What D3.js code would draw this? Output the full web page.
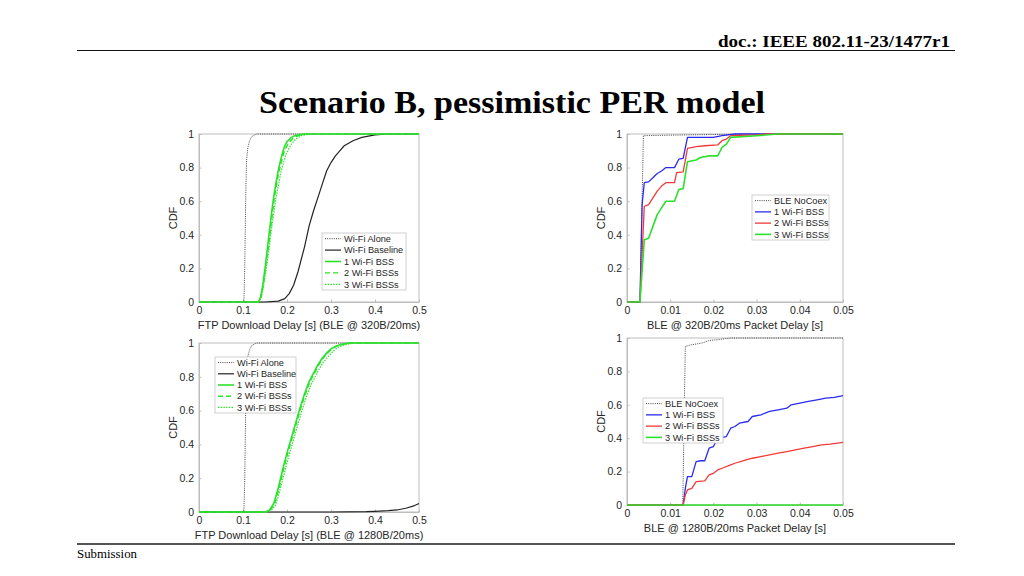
<!DOCTYPE html>
<html><head><meta charset="utf-8">
<script src="https://cdn.jsdelivr.net/npm/d3@7"></script>
<style>body{margin:0;background:#fff}svg{display:block}</style>
</head><body><svg id="c" width="1024" height="576"></svg>
<script>
// ---------- DATA ----------
const headerText = "doc.: IEEE 802.11-23/1477r1";
const titleText = "Scenario B, pessimistic PER model";
const footerText = "Submission";

const ftpTicks = [0, 0.1, 0.2, 0.3, 0.4, 0.5];
const bleTicks = [0, 0.01, 0.02, 0.03, 0.04, 0.05];
const cdfTicks = [0, 0.2, 0.4, 0.6, 0.8, 1];

const ftpLegend = ["Wi-Fi Alone", "Wi-Fi Baseline", "1 Wi-Fi BSS", "2 Wi-Fi BSSs", "3 Wi-Fi BSSs"];
const bleLegend = ["BLE NoCoex", "1 Wi-Fi BSS", "2 Wi-Fi BSSs", "3 Wi-Fi BSSs"];

// Top-left: FTP delay, BLE @ 320B/20ms
const tlAlone = [[0,0],[0.102,0],[0.104,0.2],[0.106,0.6],[0.108,0.84],[0.111,0.92],[0.115,0.96],[0.12,0.985],[0.13,1],[0.5,1]];
const tlBaseline = [[0,0],[0.15,0],[0.18,0.005],[0.195,0.02],[0.205,0.05],[0.215,0.1],[0.225,0.18],[0.24,0.33],[0.25,0.45],[0.26,0.54],[0.27,0.62],[0.28,0.7],[0.29,0.78],[0.30,0.83],[0.31,0.87],[0.32,0.9],[0.33,0.93],[0.35,0.96],[0.37,0.98],[0.40,0.995],[0.43,1],[0.5,1]];
const tl1 = [[0,0],[0.135,0],[0.14,0.03],[0.145,0.1],[0.15,0.2],[0.155,0.31],[0.16,0.42],[0.165,0.53],[0.17,0.63],[0.175,0.71],[0.18,0.78],[0.185,0.84],[0.19,0.89],[0.195,0.93],[0.2,0.955],[0.21,0.98],[0.22,0.992],[0.24,1],[0.5,1]];
const tl2 = [[0,0],[0.136,0],[0.141,0.03],[0.146,0.1],[0.151,0.2],[0.157,0.31],[0.162,0.42],[0.167,0.53],[0.172,0.63],[0.177,0.71],[0.182,0.78],[0.188,0.84],[0.193,0.89],[0.198,0.92],[0.204,0.95],[0.214,0.975],[0.225,0.99],[0.245,1],[0.5,1]];
const tl3 = [[0,0],[0.137,0],[0.142,0.03],[0.147,0.1],[0.153,0.2],[0.159,0.31],[0.164,0.42],[0.17,0.53],[0.175,0.62],[0.181,0.7],[0.186,0.77],[0.192,0.83],[0.198,0.88],[0.204,0.91],[0.21,0.94],[0.22,0.97],[0.232,0.99],[0.25,1],[0.5,1]];

// Top-right: BLE packet delay, 320B/20ms
const trNoCoex = [[0,0],[0.003,0],[0.0038,0.99],[0.01,0.993],[0.02,0.997],[0.03,1],[0.05,1]];
const tr1 = [[0,0],[0.003,0],[0.0035,0.58],[0.004,0.71],[0.005,0.715],[0.006,0.74],[0.007,0.765],[0.008,0.78],[0.009,0.8],[0.011,0.8],[0.012,0.85],[0.013,0.855],[0.014,0.98],[0.02,0.98],[0.022,0.99],[0.025,1],[0.05,1]];
const tr2 = [[0,0],[0.003,0],[0.004,0.57],[0.005,0.58],[0.006,0.62],[0.007,0.66],[0.008,0.69],[0.009,0.71],[0.011,0.71],[0.0115,0.77],[0.013,0.775],[0.014,0.915],[0.016,0.925],[0.018,0.93],[0.021,0.935],[0.022,0.96],[0.023,0.97],[0.024,0.99],[0.03,0.995],[0.033,1],[0.05,1]];
const tr3 = [[0,0],[0.003,0],[0.004,0.37],[0.005,0.38],[0.006,0.45],[0.007,0.52],[0.008,0.56],[0.009,0.6],[0.011,0.6],[0.012,0.67],[0.013,0.675],[0.014,0.835],[0.016,0.845],[0.017,0.86],[0.019,0.87],[0.021,0.87],[0.022,0.92],[0.023,0.94],[0.024,0.98],[0.03,0.99],[0.035,1],[0.05,1]];

// Bottom-left: FTP delay, BLE @ 1280B/20ms
const blAlone = [[0,0],[0.102,0],[0.104,0.2],[0.106,0.6],[0.108,0.84],[0.111,0.92],[0.115,0.96],[0.12,0.985],[0.13,1],[0.5,1]];
const blBaseline = [[0,0],[0.3,0],[0.38,0.002],[0.4,0.004],[0.43,0.008],[0.45,0.012],[0.47,0.022],[0.49,0.038],[0.5,0.05]];
const bl1 = [[0,0],[0.15,0],[0.16,0.01],[0.17,0.05],[0.18,0.14],[0.19,0.25],[0.2,0.35],[0.21,0.44],[0.22,0.53],[0.23,0.62],[0.24,0.7],[0.25,0.77],[0.26,0.82],[0.27,0.87],[0.28,0.91],[0.29,0.94],[0.3,0.965],[0.31,0.98],[0.32,0.99],[0.34,1],[0.5,1]];
const bl2 = [[0,0],[0.152,0],[0.162,0.01],[0.172,0.05],[0.182,0.14],[0.192,0.25],[0.202,0.35],[0.212,0.44],[0.222,0.53],[0.232,0.62],[0.242,0.7],[0.252,0.77],[0.262,0.82],[0.272,0.87],[0.282,0.91],[0.292,0.94],[0.302,0.965],[0.312,0.98],[0.322,0.99],[0.342,1],[0.5,1]];
const bl3 = [[0,0],[0.154,0],[0.164,0.01],[0.174,0.04],[0.184,0.13],[0.194,0.23],[0.204,0.33],[0.214,0.42],[0.224,0.51],[0.234,0.6],[0.244,0.68],[0.254,0.75],[0.264,0.8],[0.274,0.85],[0.284,0.89],[0.294,0.92],[0.304,0.95],[0.314,0.97],[0.326,0.985],[0.35,1],[0.5,1]];

// Bottom-right: BLE packet delay, 1280B/20ms
const brNoCoex = [[0,0],[0.0129,0],[0.0135,0.95],[0.015,0.96],[0.017,0.968],[0.018,0.975],[0.019,0.985],[0.021,0.99],[0.024,1],[0.05,1]];
const br1 = [[0,0],[0.013,0],[0.0135,0.1],[0.014,0.17],[0.015,0.17],[0.016,0.26],[0.017,0.265],[0.018,0.265],[0.019,0.34],[0.02,0.35],[0.021,0.4],[0.023,0.41],[0.024,0.46],[0.025,0.47],[0.026,0.49],[0.028,0.5],[0.029,0.53],[0.031,0.54],[0.033,0.56],[0.035,0.57],[0.037,0.58],[0.038,0.6],[0.04,0.61],[0.042,0.62],[0.044,0.63],[0.046,0.64],[0.048,0.645],[0.05,0.655]];
const br2 = [[0,0],[0.013,0],[0.0135,0.06],[0.014,0.09],[0.015,0.1],[0.016,0.14],[0.018,0.145],[0.019,0.18],[0.02,0.19],[0.021,0.21],[0.022,0.22],[0.024,0.24],[0.025,0.25],[0.027,0.265],[0.029,0.28],[0.031,0.29],[0.033,0.3],[0.035,0.31],[0.037,0.32],[0.039,0.33],[0.041,0.34],[0.043,0.35],[0.045,0.36],[0.047,0.365],[0.05,0.375]];
const br3 = [[0,0],[0.05,0]];

// ---------- STYLE ----------
const GREEN = "#2ee02e", BLUE = "#2b2bf0", RED = "#f03a3a";
const stAlone = {c: "#444", w: 1, d: "1,1.2"};
const stBase = {c: "#222", w: 1.2, d: null};
const stG1 = {c: GREEN, w: 1.6, d: null};
const stG2 = {c: GREEN, w: 1.4, d: "5,3"};
const stG3 = {c: GREEN, w: 1.2, d: "1.5,1.2"};
const stBlue = {c: BLUE, w: 1.3, d: null};
const stRed = {c: RED, w: 1.3, d: null};
const stGreen = {c: GREEN, w: 1.6, d: null};

const svg = d3.select("#c");
const SANS = "'Liberation Sans', Arial, Helvetica, sans-serif";
const SERIF = "'Liberation Serif', 'Times New Roman', serif";

// Header/footer
svg.append("text").attr("x", 950).attr("y", 47).attr("text-anchor", "end")
  .attr("font-family", SERIF).attr("font-weight", "bold").attr("font-size", 16)
  .attr("textLength", 232).attr("lengthAdjust", "spacingAndGlyphs").text(headerText);
svg.append("line").attr("x1", 77).attr("x2", 955).attr("y1", 50.5).attr("y2", 50.5)
  .attr("stroke", "#111").attr("stroke-width", 1);
svg.append("text").attr("x", 512).attr("y", 113).attr("text-anchor", "middle")
  .attr("font-family", SERIF).attr("font-weight", "bold").attr("font-size", 31)
  .attr("textLength", 506).attr("lengthAdjust", "spacingAndGlyphs").text(titleText);
svg.append("line").attr("x1", 77).attr("x2", 955).attr("y1", 544).attr("y2", 544)
  .attr("stroke", "#555").attr("stroke-width", 2);
svg.append("text").attr("x", 77).attr("y", 558)
  .attr("font-family", SERIF).attr("font-size", 12)
  .attr("textLength", 60).attr("lengthAdjust", "spacingAndGlyphs").text(footerText);

function panel(cfg) {
  const x = d3.scaleLinear().domain(cfg.xdom).range([cfg.x0, cfg.x1]);
  const y = d3.scaleLinear().domain([0, 1]).range([cfg.y1, cfg.y0]);
  const g = svg.append("g");
  g.append("rect").attr("x", cfg.x0).attr("y", cfg.y0).attr("width", cfg.x1 - cfg.x0)
    .attr("height", cfg.y1 - cfg.y0).attr("fill", "#fff").attr("stroke", "#bdbdbd").attr("stroke-width", 1);
  const fmt = d => d === 0 ? "0" : (d === 1 ? "1" : String(+d.toFixed(3)));
  const xa = g.append("g").attr("transform", `translate(0,${cfg.y1})`)
    .call(d3.axisBottom(x).tickValues(cfg.xticks).tickFormat(fmt).tickSizeInner(-2.5).tickSizeOuter(0).tickPadding(5));
  const ya = g.append("g").attr("transform", `translate(${cfg.x0},0)`)
    .call(d3.axisLeft(y).tickValues(cdfTicks).tickFormat(fmt).tickSizeInner(-2.5).tickSizeOuter(0).tickPadding(5));
  [xa, ya].forEach(a => {
    a.select(".domain").attr("stroke", "#bdbdbd");
    a.selectAll(".tick line").attr("stroke", "#bdbdbd");
    a.selectAll("text").attr("font-family", SANS).attr("font-size", 10.5).attr("fill", "#262626");
  });
  g.append("text").attr("x", (cfg.x0 + cfg.x1) / 2).attr("y", cfg.y1 + 27).attr("text-anchor", "middle")
    .attr("font-family", SANS).attr("font-size", 11).attr("fill", "#262626").text(cfg.xlabel);
  g.append("text").attr("transform", `translate(${cfg.x0 - 22},${(cfg.y0 + cfg.y1) / 2}) rotate(-90)`)
    .attr("text-anchor", "middle").attr("font-family", SANS).attr("font-size", 11).attr("fill", "#262626").text("CDF");
  const line = d3.line().x(d => x(d[0])).y(d => y(d[1]));
  cfg.series.forEach(s => {
    g.append("path").datum(s.data).attr("d", line).attr("fill", "none")
      .attr("stroke", s.st.c).attr("stroke-width", s.st.w).attr("stroke-dasharray", s.st.d)
      .attr("stroke-linejoin", "round");
  });
  const L = cfg.legend;
  const lg = g.append("g");
  lg.append("rect").attr("x", L.x).attr("y", L.y).attr("width", L.w).attr("height", L.h)
    .attr("fill", "#fff").attr("stroke", "#c4c4c4").attr("stroke-width", 0.8);
  cfg.series.forEach((s, i) => {
    const yy = L.y + L.h / cfg.series.length * (i + 0.5);
    lg.append("line").attr("x1", L.x + 3).attr("x2", L.x + 19).attr("y1", yy).attr("y2", yy)
      .attr("stroke", s.st.c).attr("stroke-width", s.st.w).attr("stroke-dasharray", s.st.d);
    lg.append("text").attr("x", L.x + 22).attr("y", yy + 3.2).attr("font-family", SANS).attr("font-size", 9.2)
      .attr("fill", "#262626").text(s.name);
  });
}

panel({
  x0: 199, x1: 419, y0: 134, y1: 302, xdom: [0, 0.5], xticks: ftpTicks,
  xlabel: "FTP Download Delay [s] (BLE @ 320B/20ms)",
  series: [
    {name: ftpLegend[0], data: tlAlone, st: stAlone},
    {name: ftpLegend[1], data: tlBaseline, st: stBase},
    {name: ftpLegend[2], data: tl1, st: stG1},
    {name: ftpLegend[3], data: tl2, st: stG2},
    {name: ftpLegend[4], data: tl3, st: stG3}],
  legend: {x: 322, y: 233, w: 84, h: 57}
});
panel({
  x0: 627, x1: 843, y0: 134, y1: 302, xdom: [0, 0.05], xticks: bleTicks,
  xlabel: "BLE @ 320B/20ms Packet Delay [s]",
  series: [
    {name: bleLegend[0], data: trNoCoex, st: stAlone},
    {name: bleLegend[1], data: tr1, st: stBlue},
    {name: bleLegend[2], data: tr2, st: stRed},
    {name: bleLegend[3], data: tr3, st: stGreen}],
  legend: {x: 752, y: 195, w: 77, h: 45}
});
panel({
  x0: 199, x1: 419, y0: 343, y1: 512, xdom: [0, 0.5], xticks: ftpTicks,
  xlabel: "FTP Download Delay [s] (BLE @ 1280B/20ms)",
  series: [
    {name: ftpLegend[0], data: blAlone, st: stAlone},
    {name: ftpLegend[1], data: blBaseline, st: stBase},
    {name: ftpLegend[2], data: bl1, st: stG1},
    {name: ftpLegend[3], data: bl2, st: stG2},
    {name: ftpLegend[4], data: bl3, st: stG3}],
  legend: {x: 215, y: 357, w: 81, h: 56}
});
panel({
  x0: 627, x1: 843, y0: 338, y1: 505, xdom: [0, 0.05], xticks: bleTicks,
  xlabel: "BLE @ 1280B/20ms Packet Delay [s]",
  series: [
    {name: bleLegend[0], data: brNoCoex, st: stAlone},
    {name: bleLegend[1], data: br1, st: stBlue},
    {name: bleLegend[2], data: br2, st: stRed},
    {name: bleLegend[3], data: br3, st: stGreen}],
  legend: {x: 643, y: 398, w: 80, h: 45}
});
</script></body></html>
